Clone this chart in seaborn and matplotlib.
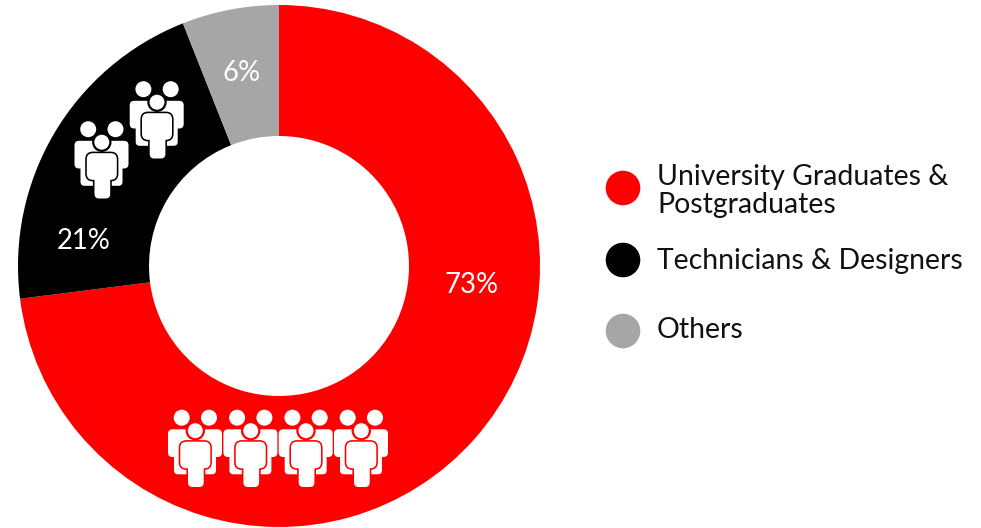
import matplotlib
matplotlib.use("Agg")
import matplotlib.pyplot as plt
from matplotlib.patches import Circle, FancyBboxPatch
import seaborn as sns

categories = ["University Graduates &\nPostgraduates", "Technicians & Designers", "Others"]
shares = [73, 21, 6]
share_labels = ["73%", "21%", "6%"]
colours = ["#FF0000", "#000000", "#A6A6A6"]

sns.set_theme(style="white")
plt.rcParams["font.family"] = ["Lato", "DejaVu Sans"]

WIDTH, HEIGHT = 981, 528
fig = plt.figure(figsize=(WIDTH / 100, HEIGHT / 100), dpi=100, facecolor="white")
ax = fig.add_axes([0, 0, 1, 1])


def up(py):
    """Convert a y position measured from the top edge to axes units."""
    return HEIGHT - py


# Donut, clockwise from twelve o'clock
palette = sns.color_palette(colours)
ax.pie(shares, colors=palette, startangle=90, counterclock=False,
       center=(279, up(266)), radius=261,
       wedgeprops=dict(width=131, linewidth=0))
ax.set_xlim(0, WIDTH)
ax.set_ylim(0, HEIGHT)
ax.set_aspect("equal")
ax.axis("off")

# Percentages inside the ring
label_spots = [(472, 285), (84, 241), (242, 73)]
for text, (x, y) in zip(share_labels, label_spots):
    ax.text(x, up(y), text, color="white", fontsize=19.8, ha="center", va="center")


def rounded(x, y, w, h, r, face, edge="none", lw=0.0, z=3):
    ax.add_patch(FancyBboxPatch((x + r, up(y + h) + r), w - 2 * r, h - 2 * r,
                                boxstyle=f"round,pad={r},rounding_size={r}",
                                facecolor=face, edgecolor=edge, linewidth=lw, zorder=z))


def person_group(x0, y0, fg, bg):
    """Three-person pictogram whose top-left corner sits at (x0, y0)."""
    for side in (0, 27.5):
        rounded(x0 + side, y0 + 19.3, 26.5, 27.7, 4.5, fg)
        inset = 6 if side == 0 else 0
        rounded(x0 + side + inset, y0 + 30, 20.5, 34.3, 4, fg)
    ax.add_patch(Circle((x0 + 13.7, up(y0 + 7.7)), 8, facecolor=fg, edgecolor="none", zorder=3))
    ax.add_patch(Circle((x0 + 41, up(y0 + 7.7)), 8, facecolor=fg, edgecolor="none", zorder=3))
    # front figure, separated from the back row by a thin outline
    rounded(x0 + 12.3, y0 + 31.7, 30, 26.6, 6, bg, bg, 2.3, z=4)
    rounded(x0 + 20, y0 + 45, 15.7, 32, 4.5, bg, bg, 2.3, z=4)
    ax.add_patch(Circle((x0 + 27.3, up(y0 + 20.7)), 8.6, facecolor=fg, edgecolor=bg, linewidth=1.6, zorder=6))
    rounded(x0 + 12.3, y0 + 31.7, 30, 26.6, 6, fg, z=5)
    rounded(x0 + 20, y0 + 45, 15.7, 32, 4.5, fg, z=5)


for left in (168, 223.4, 278.7, 334):
    person_group(left, 410, "white", colours[0])
for left, top in ((74.5, 121.5), (129.7, 81.5)):
    person_group(left, top, "white", colours[1])

# Legend
marker_rows = [188, 260, 331]
text_rows = [191, 261, 330.5]
for colour, row, text_row, name in zip(colours, marker_rows, text_rows, categories):
    ax.add_patch(Circle((623, up(row)), 17.3, facecolor=colour, edgecolor="none"))
    ax.text(657, up(text_row), name, color="#111111", fontsize=20.4,
            ha="left", va="center", linespacing=1.08)

fig.savefig("out.png", dpi=100, facecolor="white")
